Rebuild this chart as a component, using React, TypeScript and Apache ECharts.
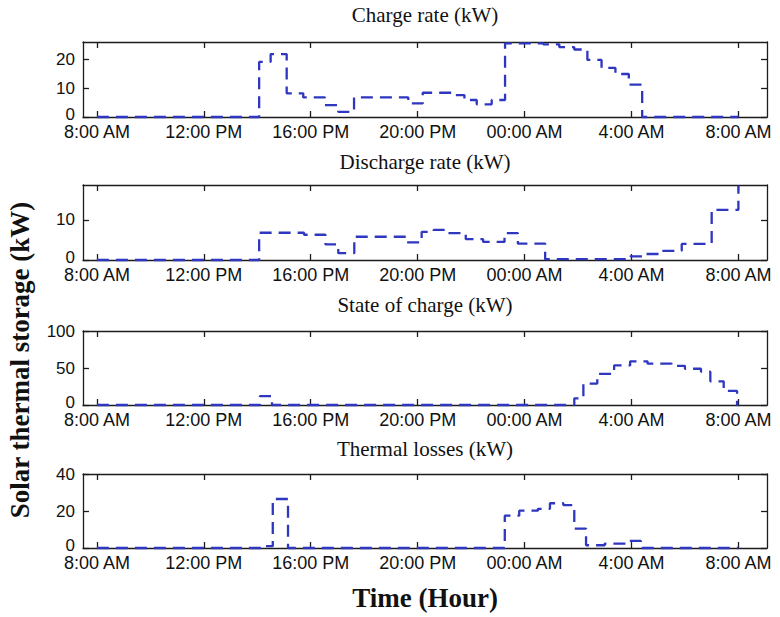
import React, { useEffect, useRef } from "react";
import * as echarts from "echarts";

// Time is measured in hours after 8:00 AM; every series is a step profile
// given as [start hour, value] pairs that hold until the next pair.
const timeTicks = [0, 4, 8, 12, 16, 20, 24];
const tickLabels = ["8:00 AM", "12:00 PM", "16:00 PM", "20:00 PM", "00:00 AM", "4:00 AM", "8:00 AM"];

const chargeRate: [number, number][] = [
  [0, 0], [6.07, 19.1], [6.5, 21.8], [7.1, 8.2], [7.72, 6.8], [8.53, 4.1], [9.03, 1.8],
  [9.62, 6.8], [11.65, 4.7], [12.19, 8.4], [13.27, 7.6], [13.75, 5.9], [14.21, 4.4],
  [14.77, 5.9], [15.27, 25.5], [16.7, 25.2], [17.3, 24.2], [17.86, 23.4], [18.35, 19.8],
  [18.88, 17.0], [19.4, 14.9], [19.9, 11.2], [20.4, 0], [24, 0],
];

const dischargeRate: [number, number][] = [
  [0, 0], [6.07, 6.8], [7.75, 6.3], [8.55, 3.9], [9.03, 1.7], [9.63, 5.8], [11.6, 4.4],
  [12.15, 7.0], [12.6, 7.5], [13.1, 6.7], [13.8, 5.2], [14.45, 4.5], [15.25, 6.7],
  [15.75, 4.1], [16.77, 0.2], [19.95, 0.9], [20.45, 1.5], [21.05, 2.3], [21.88, 4.0],
  [23.0, 12.5], [24.0, 18.5],
];

const stateOfCharge: [number, number][] = [
  [0, 0], [6.1, 12], [6.55, 0], [17.86, 9], [18.2, 29], [18.72, 42], [19.35, 53.5],
  [19.95, 59], [20.6, 56], [21.5, 53], [22.0, 49], [22.6, 45], [22.95, 32], [23.45, 19],
  [23.95, 0], [24, 0],
];

const thermalLosses: [number, number][] = [
  [0, 0], [6.2, 1], [6.58, 26.5], [7.15, 0], [15.26, 17.5], [15.8, 20.2], [16.5, 21.2],
  [16.95, 24.2], [17.45, 23.2], [17.86, 10.5], [18.3, 1.5], [19.0, 2.4], [19.9, 3.8],
  [20.35, 0], [24, 0],
];

const panelTitles = ["Charge rate (kW)", "Discharge rate (kW)", "State of charge (kW)", "Thermal losses (kW)"];
const panelSeries = [chargeRate, dischargeRate, stateOfCharge, thermalLosses];
const yMax = [26, 18.7, 100, 40];
const yTicks = [[0, 10, 20], [0, 10], [0, 50, 100], [0, 20, 40]];

const X_MIN = -0.52;
const X_MAX = 25.07;

const gridBoxes = [
  { top: 42, height: 75 },
  { top: 185, height: 75 },
  { top: 331, height: 74 },
  { top: 474, height: 74 },
];
const titleY = [15, 162, 305, 449];

const AXIS_COLOR = "#1c1c1c";
const LINE_COLOR = "#2f36bf";

function buildOption(): echarts.EChartsOption {
  const grid: any[] = [];
  const xAxis: any[] = [];
  const yAxis: any[] = [];
  const series: any[] = [];
  const graphic: any[] = [];

  const axisLine = { show: true, onZero: false, lineStyle: { color: AXIS_COLOR, width: 1.3 } };
  const tick = (values: number[]) => ({
    show: true,
    inside: true,
    length: 6,
    customValues: values,
    lineStyle: { color: AXIS_COLOR, width: 1.3 },
  });

  gridBoxes.forEach((box, i) => {
    grid.push({ left: 83, right: 13, top: box.top, height: box.height, containLabel: false });

    xAxis.push({
      type: "value",
      gridIndex: i,
      position: "bottom",
      min: X_MIN,
      max: X_MAX,
      axisLine,
      axisTick: tick(timeTicks),
      splitLine: { show: false },
      axisLabel: {
        show: true,
        customValues: timeTicks,
        margin: 8,
        lineHeight: 14,
        color: "#111",
        fontFamily: "Liberation Sans",
        fontSize: 18,
        formatter: (v: number) => tickLabels[timeTicks.indexOf(Math.round(v))] ?? "",
      },
    });
    xAxis.push({
      type: "value",
      gridIndex: i,
      position: "top",
      min: X_MIN,
      max: X_MAX,
      axisLine,
      axisTick: tick(timeTicks),
      splitLine: { show: false },
      axisLabel: { show: false },
    });

    yAxis.push({
      type: "value",
      gridIndex: i,
      position: "left",
      min: 0,
      max: yMax[i],
      axisLine,
      axisTick: tick(yTicks[i]),
      splitLine: { show: false },
      axisLabel: {
        show: true,
        customValues: yTicks[i],
        margin: 8,
        color: "#111",
        fontFamily: "Liberation Sans",
        fontSize: 17,
        // the zero sits just above the time labels underneath it
        formatter: (v: number) => (v === 0 ? "{z|0}" : String(v)),
        rich: {
          z: { fontFamily: "Liberation Sans", fontSize: 17, color: "#111", padding: [0, 0, 6, 0] },
        },
      },
    });
    yAxis.push({
      type: "value",
      gridIndex: i,
      position: "right",
      min: 0,
      max: yMax[i],
      axisLine,
      axisTick: tick(yTicks[i]),
      splitLine: { show: false },
      axisLabel: { show: false },
    });

    series.push({
      type: "line",
      xAxisIndex: 2 * i,
      yAxisIndex: 2 * i,
      step: "end",
      showSymbol: false,
      clip: false,
      data: panelSeries[i],
      lineStyle: { color: LINE_COLOR, width: 2.3, type: [12, 7] },
    });

    graphic.push({
      type: "text",
      x: 425,
      y: titleY[i],
      style: {
        text: panelTitles[i],
        fill: "#111",
        font: "21px 'Liberation Serif'",
        textAlign: "center",
        textVerticalAlign: "middle",
      },
    });
  });

  graphic.push({
    type: "text",
    x: 425,
    y: 598,
    style: {
      text: "Time (Hour)",
      fill: "#111",
      font: "bold 27px 'Liberation Serif'",
      textAlign: "center",
      textVerticalAlign: "middle",
    },
  });
  graphic.push({
    type: "text",
    x: 20,
    y: 360,
    rotation: Math.PI / 2,
    style: {
      text: "Solar thermal storage (kW)",
      fill: "#111",
      font: "bold 27px 'Liberation Serif'",
      textAlign: "center",
      textVerticalAlign: "middle",
    },
  });

  return {
    animation: false,
    backgroundColor: "#ffffff",
    grid,
    xAxis,
    yAxis,
    series,
    graphic,
  };
}

export default function App() {
  const ref = useRef<HTMLDivElement>(null);

  useEffect(() => {
    if (!ref.current) return;
    const chart = echarts.init(ref.current, undefined, { renderer: "svg" });
    chart.setOption(buildOption());
    return () => chart.dispose();
  }, []);

  return (
    <div
      ref={ref}
      style={{ position: "fixed", left: 0, top: 0, width: 780, height: 617, background: "#fff" }}
    />
  );
}
